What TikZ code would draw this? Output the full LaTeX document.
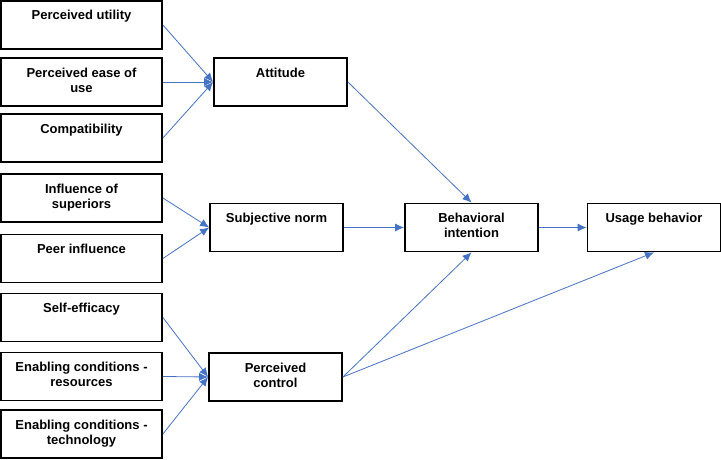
\documentclass[tikz,border=0pt]{standalone}
\usepackage{fontspec}
\setmainfont{Liberation Sans}
\usetikzlibrary{arrows.meta}
\definecolor{linkblue}{RGB}{68,114,196}
\newcommand{\boxlabel}[2][150pt]{\parbox[c][48pt][t]{#1}{\centering\rule{0pt}{19pt}#2}}

\begin{document}
\begin{tikzpicture}[
			x=1pt, y=-1pt,
			factor/.style={draw, line width=1.8pt, minimum width=161pt, inner sep=0pt, font=\fontsize{13}{15}\selectfont\bfseries},
			construct/.style={factor, minimum width=133pt},
			link/.style={draw=linkblue, line width=0.8pt, -{Latex[length=9pt,width=8pt]}}
		]
		\useasboundingbox (0,0) rectangle (721,460);

		% antecedents
		\node[factor] (util) at (81.5,25) {\boxlabel{Perceived utility}};
		\node[factor] (ease) at (81.5,82) {\boxlabel{Perceived ease of\\use}};
		\node[factor] (compat) at (81.5,138) {\boxlabel{Compatibility}};
		\node[factor] (sup) at (81.5,198) {\boxlabel{Influence of\\superiors}};
		\node[factor] (peer) at (81.5,258.5) {\boxlabel{Peer influence}};
		\node[factor] (selfeff) at (81.5,317.5) {\boxlabel{Self-efficacy}};
		\node[factor] (res) at (81.5,376.5) {\boxlabel{Enabling conditions -\\resources}};
		\node[factor] (tech) at (81.5,434) {\boxlabel{Enabling conditions -\\technology}};

		% constructs
		\node[construct] (att) at (280.5,82) {\boxlabel[125pt]{Attitude}};
		\node[construct] (norm) at (276.5,227.5) {\boxlabel[125pt]{Subjective norm}};
		\node[construct] (ctrl) at (275.5,377) {\boxlabel[125pt]{Perceived\\control}};
		\node[construct] (intent) at (471.5,227.5) {\boxlabel[125pt]{Behavioral\\intention}};
		\node[construct] (usage) at (654,227.5) {\boxlabel[125pt]{Usage behavior}};

		\draw[link] (util.east) -- (att.west);
		\draw[link] (ease.east) -- (att.west);
		\draw[link] (compat.east) -- (att.west);
		\draw[link] (sup.east) -- (norm.west);
		\draw[link] (peer.east) -- (norm.west);
		\draw[link] (selfeff.east) -- (ctrl.west);
		\draw[link] (res.east) -- (ctrl.west);
		\draw[link] (tech.east) -- (ctrl.west);

		\draw[link] (att.east) -- (intent.north);
		\draw[link] (norm.east) -- (intent.west);
		\draw[link] (ctrl.east) -- (intent.south);
		\draw[link] (ctrl.east) -- (usage.south);
		\draw[link] (intent.east) -- (usage.west);
	\end{tikzpicture}
\end{document}
